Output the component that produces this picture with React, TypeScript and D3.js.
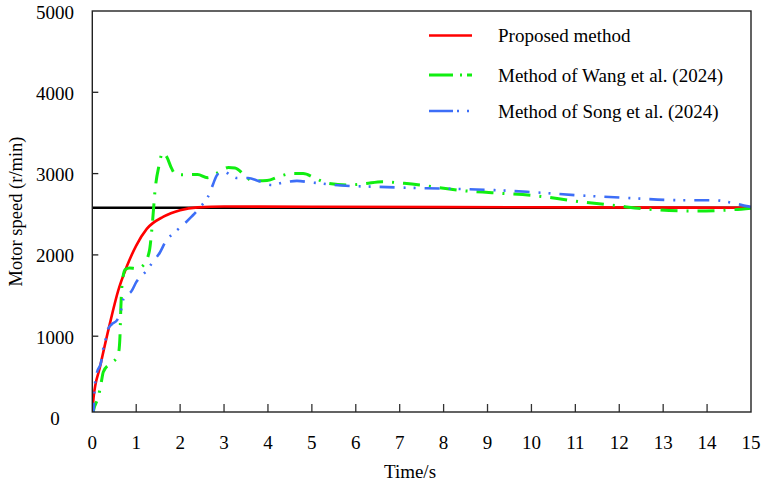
import { useEffect, useRef } from "react";
import * as d3 from "d3";

// Axis ticks
const xTicks = [0, 1, 2, 3, 4, 5, 6, 7, 8, 9, 10, 11, 12, 13, 14, 15];
const yTicks = [0, 1000, 2000, 3000, 4000, 5000];

// Reference speed (r/min)
const refSpeed = 2580;

// [time (s), speed (r/min)]
const proposed: [number, number][] = [
  [0, 0], [0.03, 250], [0.175, 620], [0.4, 1155], [0.59, 1560], [0.78, 1850],
  [1.0, 2115], [1.24, 2320], [1.62, 2470], [2.0, 2550], [2.4, 2585], [3.0, 2595],
  [5.0, 2592], [8.0, 2588], [11.0, 2584], [15.0, 2580],
];

const wang: [number, number][] = [
  [0, 0], [0.03, 90], [0.14, 260], [0.2, 420], [0.25, 560], [0.4, 660], [0.55, 730],
  [0.6, 800], [0.63, 1000], [0.65, 1350], [0.68, 1650], [0.75, 1820], [0.85, 1840],
  [1.0, 1830], [1.16, 1870], [1.3, 2050], [1.37, 2400], [1.43, 2800], [1.52, 3100],
  [1.6, 3257], [1.7, 3200], [1.8, 3070], [1.9, 2990], [2.1, 2985], [2.4, 2990],
  [2.62, 2950], [2.85, 3010], [3.1, 3075], [3.25, 3070], [3.45, 2990], [3.65, 2910],
  [3.98, 2915], [4.28, 2970], [4.55, 3000], [4.8, 3000], [5.1, 2935], [5.37, 2880],
  [5.8, 2860], [6.2, 2875], [6.6, 2900], [7.1, 2880], [7.5, 2857], [8.0, 2820],
  [8.45, 2790], [9.1, 2765], [10.1, 2727], [11.0, 2662], [11.9, 2607], [12.8, 2556],
  [13.7, 2540], [14.6, 2556], [15.0, 2575],
];

const song: [number, number][] = [
  [0, 0], [0.03, 100], [0.06, 400], [0.1, 540], [0.2, 680], [0.25, 850], [0.31, 975],
  [0.36, 1090], [0.45, 1150], [0.56, 1195], [0.65, 1310], [0.71, 1460], [0.9, 1560],
  [1.0, 1665], [1.24, 1810], [1.4, 1930], [1.54, 2030], [1.66, 2155], [1.92, 2300],
  [2.09, 2380], [2.26, 2470], [2.45, 2583], [2.68, 2767], [2.75, 2870], [2.85, 2990],
  [3.0, 3025], [3.15, 2980], [3.3, 2945], [3.55, 2945], [3.78, 2910], [4.08, 2860],
  [4.35, 2890], [4.66, 2910], [5.0, 2890], [5.25, 2877], [5.5, 2860], [6.5, 2837],
  [7.6, 2820], [8.75, 2805], [9.9, 2776], [11.0, 2735], [12.2, 2700], [13.4, 2673],
  [14.15, 2673], [14.6, 2637], [14.9, 2600], [15.0, 2590],
];

const seriesNames = [
  "Proposed method",
  "Method of Wang et al. (2024)",
  "Method of Song et al. (2024)",
];

function App() {
  const d3Chart = useRef<SVGSVGElement>(null);

  useEffect(() => {
    const svg = d3.select(d3Chart.current);
    svg.selectAll("*").remove();

    const font = "'Liberation Serif', 'Times New Roman', serif";
    const left = 92.3;
    const right = 751;
    const top = 11;
    const bottom = 412;

    const x = d3.scaleLinear().domain([0, 15]).range([left, right]);
    const y = d3.scaleLinear().domain([0, 5000]).range([417.5, top]);

    // Clip for the curves
    svg
      .append("defs")
      .append("clipPath")
      .attr("id", "plot-clip")
      .append("rect")
      .attr("x", left)
      .attr("y", top)
      .attr("width", right - left)
      .attr("height", bottom - top);

    // Ticks (inward)
    svg
      .append("g")
      .selectAll("line")
      .data(xTicks.filter((t) => t > 0 && t < 15))
      .enter()
      .append("line")
      .attr("x1", (d) => x(d))
      .attr("x2", (d) => x(d))
      .attr("y1", bottom)
      .attr("y2", bottom - 8)
      .attr("stroke", "#333")
      .attr("stroke-width", 1.3);

    svg
      .append("g")
      .selectAll("line")
      .data(yTicks.filter((v) => v > 0 && v < 5000))
      .enter()
      .append("line")
      .attr("x1", left)
      .attr("x2", left + 6)
      .attr("y1", (d) => y(d))
      .attr("y2", (d) => y(d))
      .attr("stroke", "#222")
      .attr("stroke-width", 1.3);

    // Tick labels
    svg
      .append("g")
      .selectAll("text")
      .data(xTicks)
      .enter()
      .append("text")
      .attr("x", (d) => x(d))
      .attr("y", 442)
      .attr("text-anchor", "middle")
      .attr("dominant-baseline", "central")
      .attr("font-family", font)
      .attr("font-size", 19)
      .text((d) => d);

    svg
      .append("g")
      .selectAll("text")
      .data(yTicks)
      .enter()
      .append("text")
      .attr("x", 55)
      .attr("y", (d) => y(d) + 1)
      .attr("text-anchor", "middle")
      .attr("dominant-baseline", "central")
      .attr("font-family", font)
      .attr("font-size", 19)
      .text((d) => d);

    // Axis titles
    svg
      .append("text")
      .attr("x", 410)
      .attr("y", 471)
      .attr("text-anchor", "middle")
      .attr("dominant-baseline", "central")
      .attr("font-family", font)
      .attr("font-size", 19)
      .text("Time/s");

    svg
      .append("text")
      .attr("transform", `translate(16, ${(top + bottom) / 2}) rotate(-90)`)
      .attr("text-anchor", "middle")
      .attr("dominant-baseline", "central")
      .attr("font-family", font)
      .attr("font-size", 18.5)
      .text("Motor speed (r/min)");

    const plot = svg.append("g").attr("clip-path", "url(#plot-clip)");

    // Reference line
    plot
      .append("line")
      .attr("x1", x(0))
      .attr("x2", x(15))
      .attr("y1", y(refSpeed))
      .attr("y2", y(refSpeed))
      .attr("stroke", "#000")
      .attr("stroke-width", 2.4);

    const line = d3
      .line<[number, number]>()
      .x((d) => x(d[0]))
      .y((d) => y(d[1]))
      .curve(d3.curveMonotoneX);

    const styles = [
      { color: "#ff0000", width: 2.6, dash: null, legendDash: null },
      { color: "#11ee11", width: 3, dash: "17 9 2 9", legendDash: "24 7 2 5" },
      { color: "#3d6ef7", width: 2.6, dash: "15 9 2 8 2 9", legendDash: "24 4 2 8 2 8" },
    ];

    [proposed, wang, song].forEach((data, i) => {
      const s = styles[i];
      plot
        .append("path")
        .datum(data)
        .attr("d", line)
        .attr("fill", "none")
        .attr("stroke", s.color)
        .attr("stroke-width", s.width)
        .attr("stroke-dasharray", s.dash);
    });

    // Frame
    svg
      .append("rect")
      .attr("x", left)
      .attr("y", top)
      .attr("width", right - left)
      .attr("height", bottom - top)
      .attr("fill", "none")
      .attr("stroke", "#222")
      .attr("stroke-width", 1.4);

    // Legend
    const legendY = [35.5, 75, 111];
    const legend = svg
      .append("g")
      .selectAll("g")
      .data(seriesNames)
      .enter()
      .append("g")
      .attr("transform", (d, i) => `translate(0, ${legendY[i]})`);

    legend
      .append("line")
      .attr("x1", 429)
      .attr("x2", 472)
      .attr("stroke", (d, i) => styles[i].color)
      .attr("stroke-width", (d, i) => styles[i].width)
      .attr("stroke-dasharray", (d, i) => styles[i].legendDash);

    legend
      .append("text")
      .attr("x", 498)
      .attr("y", 0)
      .attr("dominant-baseline", "central")
      .attr("font-family", font)
      .attr("font-size", 19)
      .text((d) => d);
  }, []);

  return (
    <svg
      ref={d3Chart}
      width={764}
      height={486}
      style={{ position: "absolute", left: 0, top: 0, background: "#fff" }}
    />
  );
}

export default App;
